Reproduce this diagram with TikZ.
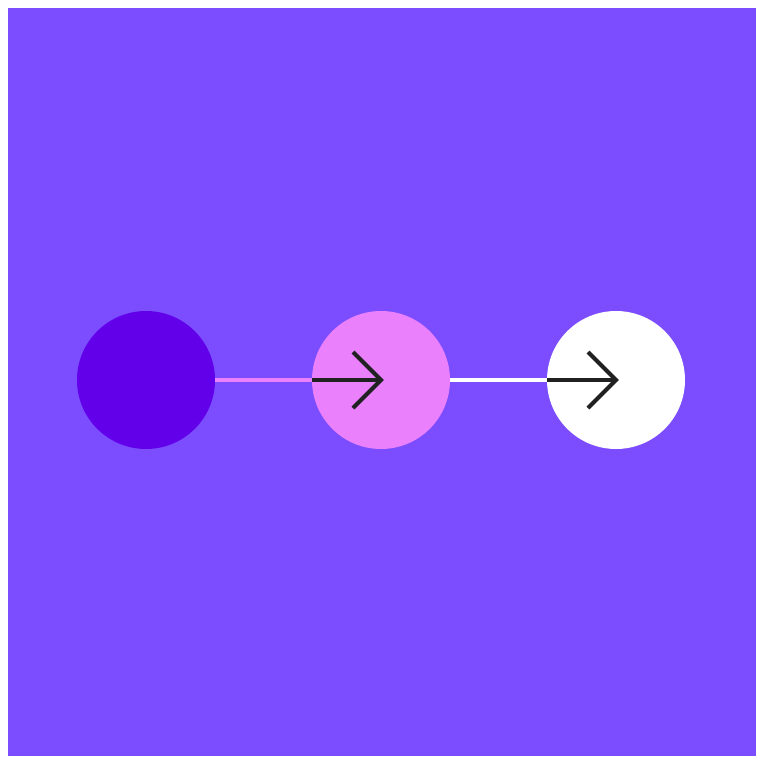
\documentclass[tikz,border=0pt]{standalone}
\usetikzlibrary{calc}
\definecolor{bgpurple}{HTML}{7C4DFF}
\definecolor{darkpurple}{HTML}{6200EA}
\definecolor{lightpink}{HTML}{EA80FC}
\definecolor{inkblack}{HTML}{212121}
\begin{document}
\begin{tikzpicture}[x=1pt,y=-1pt,
  dot/.style={circle,minimum size=138pt,inner sep=0pt,draw=none},
  link/.style={line width=4pt},
  chevron/.style={line width=4pt,draw=inkblack,line join=miter}]
\useasboundingbox (0,0) rectangle (756,758);
\fill[white] (0,0) rectangle (756,758);
\fill[bgpurple] (8,8) rectangle (756,756);
\node[dot,fill=darkpurple] (c1) at (146,380) {};
\node[dot,fill=lightpink] (c2) at (381,380) {};
\node[dot,fill=white] (c3) at (616,380) {};
\coordinate (t2) at (381,380);
\coordinate (t3) at (616,380);
\draw[link,lightpink] (c1.east) -- (c2.west);
\draw[link,white] (c2.east) -- (c3.west);
\draw[chevron] (c2.west) -- (t2);
\draw[chevron] ($(t2)+(-28,-28)$) -- (t2) -- ($(t2)+(-28,28)$);
\draw[chevron] (c3.west) -- (t3);
\draw[chevron] ($(t3)+(-28,-28)$) -- (t3) -- ($(t3)+(-28,28)$);
\end{tikzpicture}
\end{document}
